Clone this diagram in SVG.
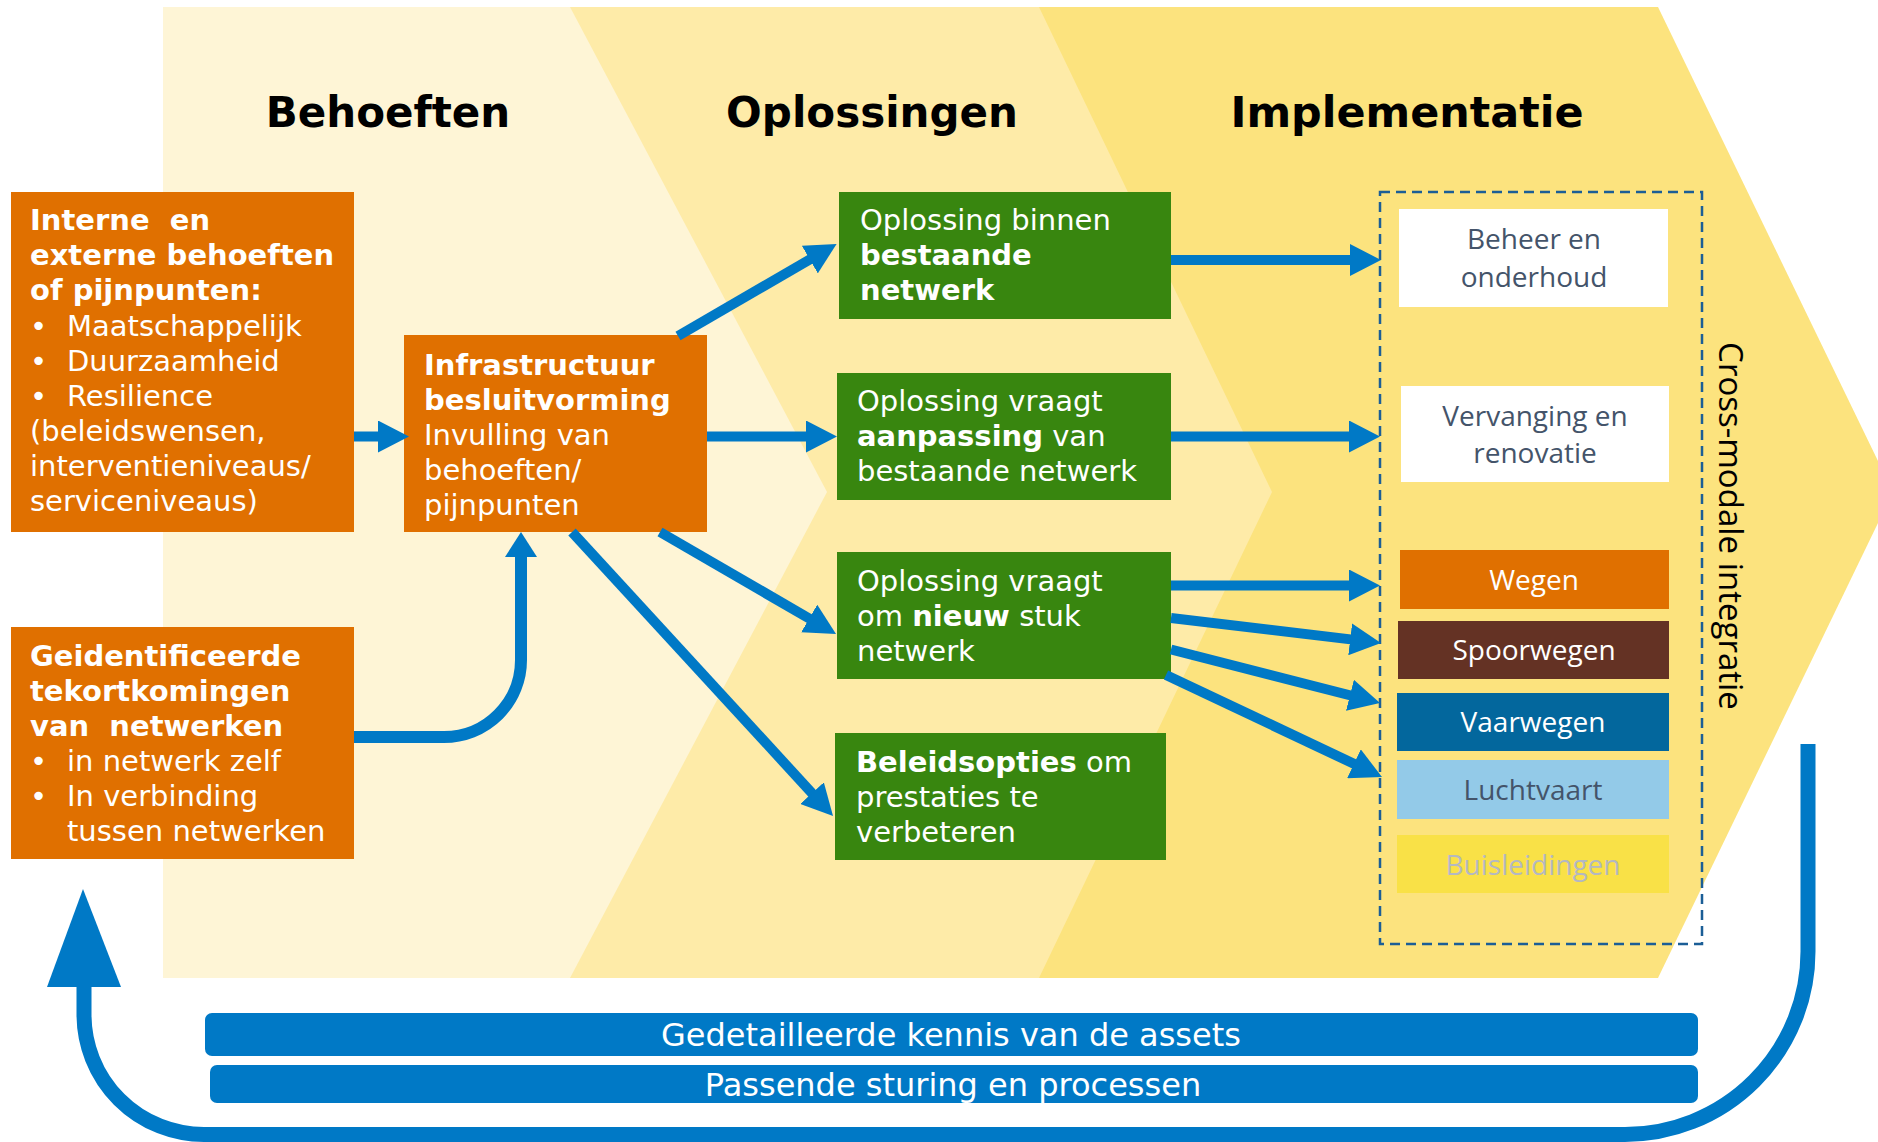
<svg xmlns="http://www.w3.org/2000/svg" width="1878" height="1142" viewBox="0 0 1878 1142">
<style>
.t{font-family:"DejaVu Sans","Verdana",sans-serif;font-size:29px;fill:#fff}
.b{font-weight:bold}
.title{font-family:"DejaVu Sans","Verdana",sans-serif;font-size:42px;font-weight:bold;fill:#000;text-anchor:middle}
.c{font-family:"Open Sans","Noto Sans",sans-serif;font-size:28px;text-anchor:middle}
.bar{font-family:"DejaVu Sans","Verdana",sans-serif;font-size:32px;fill:#fff;text-anchor:middle}
.or{fill:#E07000}
.gr{fill:#38860F}
.sh{stroke:#0079C6;stroke-width:10;fill:none}
.hd{fill:#0079C6}
</style>
<defs>
<marker id="ah" markerUnits="userSpaceOnUse" markerWidth="31" markerHeight="32" refX="11" refY="16" orient="auto" viewBox="0 0 31 32">
<path d="M0,0 L31,16 L0,32 z" fill="#0079C6"/>
</marker>
</defs>
<rect width="1878" height="1142" fill="#fff"/>
<g id="bands">
<polygon points="1000,7 1658,7 1893,492 1658,978 1000,978" fill="#FCE37E"/>
<polygon points="560,7 1039,7 1272,492 1039,978 560,978" fill="#FEEBA8"/>
<polygon points="163,7 570,7 827,492 570,978 163,978" fill="#FEF5D6"/>
</g>
<g id="titles">
<text class="title" x="388" y="127">Behoeften</text>
<text class="title" x="872" y="127">Oplossingen</text>
<text class="title" x="1407" y="127" textLength="353" lengthAdjust="spacingAndGlyphs">Implementatie</text>
</g>
<g id="node-interne">
<rect class="or" x="11" y="192" width="343" height="340"/>
<text class="t b" x="30" y="230" xml:space="preserve">Interne  en</text>
<text class="t b" x="30" y="265">externe behoeften</text>
<text class="t b" x="30" y="300">of pijnpunten:</text>
<text class="t" x="30" y="336">•</text><text class="t" x="67" y="336">Maatschappelijk</text>
<text class="t" x="30" y="371">•</text><text class="t" x="67" y="371">Duurzaamheid</text>
<text class="t" x="30" y="406">•</text><text class="t" x="67" y="406">Resilience</text>
<text class="t" x="30" y="441">(beleidswensen,</text>
<text class="t" x="30" y="476">interventieniveaus/</text>
<text class="t" x="30" y="511">serviceniveaus)</text>
</g>
<g id="node-infra">
<rect class="or" x="404" y="335" width="303" height="197"/>
<text class="t b" x="424" y="375">Infrastructuur</text>
<text class="t b" x="424" y="410">besluitvorming</text>
<text class="t" x="424" y="445">Invulling van</text>
<text class="t" x="424" y="480">behoeften/</text>
<text class="t" x="424" y="515">pijnpunten</text>
</g>
<g id="node-tekort">
<rect class="or" x="11" y="627" width="343" height="232"/>
<text class="t b" x="30" y="666">Geidentificeerde</text>
<text class="t b" x="30" y="701">tekortkomingen</text>
<text class="t b" x="30" y="736" xml:space="preserve">van  netwerken</text>
<text class="t" x="30" y="771">•</text><text class="t" x="67" y="771">in netwerk zelf</text>
<text class="t" x="30" y="806">•</text><text class="t" x="67" y="806">In verbinding</text>
<text class="t" x="67" y="841">tussen netwerken</text>
</g>
<g id="node-opl1">
<rect class="gr" x="839" y="192" width="332" height="127"/>
<text class="t" x="860" y="230">Oplossing binnen</text>
<text class="t b" x="860" y="265">bestaande</text>
<text class="t b" x="860" y="300">netwerk</text>
</g>
<g id="node-opl2">
<rect class="gr" x="837" y="373" width="334" height="127"/>
<text class="t" x="857" y="411">Oplossing vraagt</text>
<text class="t" x="857" y="446"><tspan class="b">aanpassing</tspan> van</text>
<text class="t" x="857" y="481">bestaande netwerk</text>
</g>
<g id="node-opl3">
<rect class="gr" x="837" y="552" width="334" height="127"/>
<text class="t" x="857" y="591">Oplossing vraagt</text>
<text class="t" x="857" y="626">om <tspan class="b">nieuw</tspan> stuk</text>
<text class="t" x="857" y="661">netwerk</text>
</g>
<g id="node-opl4">
<rect class="gr" x="835" y="733" width="331" height="127"/>
<text class="t" x="856" y="772"><tspan class="b">Beleidsopties</tspan> om</text>
<text class="t" x="856" y="807">prestaties te</text>
<text class="t" x="856" y="842">verbeteren</text>
</g>
<g id="node-crossmodaal">
<rect x="1380" y="192" width="322" height="752" fill="none" stroke="#1B5E96" stroke-width="2.5" stroke-dasharray="10 6"/>
<text transform="translate(1719,526) rotate(90)" style="font-family:'Open Sans','Noto Sans',sans-serif;font-size:33px;fill:#000;text-anchor:middle">Cross-modale integratie</text>
</g>
<g id="node-beheer">
<rect x="1399" y="209" width="269" height="98" fill="#fff"/>
<text class="c" x="1534" y="249" fill="#44546A">Beheer en</text>
<text class="c" x="1534" y="287" fill="#44546A">onderhoud</text>
</g>
<g id="node-vervanging">
<rect x="1401" y="386" width="268" height="96" fill="#fff"/>
<text class="c" x="1535" y="426" fill="#44546A">Vervanging en</text>
<text class="c" x="1535" y="463" fill="#44546A">renovatie</text>
</g>
<g id="node-wegen">
<rect x="1400" y="550" width="269" height="59" fill="#E07000"/>
<text class="c" x="1534" y="590" fill="#fff">Wegen</text>
</g>
<g id="node-spoorwegen">
<rect x="1398" y="621" width="271" height="58" fill="#643224"/>
<text class="c" x="1534" y="660" fill="#fff">Spoorwegen</text>
</g>
<g id="node-vaarwegen">
<rect x="1397" y="693" width="272" height="58" fill="#03679D"/>
<text class="c" x="1533" y="732" fill="#fff">Vaarwegen</text>
</g>
<g id="node-luchtvaart">
<rect x="1397" y="760" width="272" height="59" fill="#93CAE8"/>
<text class="c" x="1533" y="800" fill="#44546A">Luchtvaart</text>
</g>
<g id="node-buisleidingen">
<rect x="1397" y="835" width="272" height="58" fill="#F9E147"/>
<text class="c" x="1533" y="875" fill="#B4B8C2">Buisleidingen</text>
</g>
<g id="node-kennis">
<rect x="205" y="1013" width="1493" height="43" rx="7" fill="#0079C6"/>
<text class="bar" x="951" y="1046">Gedetailleerde kennis van de assets</text>
</g>
<g id="node-sturing">
<rect x="210" y="1065" width="1488" height="38" rx="7" fill="#0079C6"/>
<text class="bar" x="953" y="1096">Passende sturing en processen</text>
</g>
<g id="connectors">
<line class="sh" x1="354" y1="436.5" x2="389" y2="436.5" marker-end="url(#ah)"/>
<line class="sh" x1="707" y1="436.5" x2="817" y2="436.5" marker-end="url(#ah)"/>
<line class="sh" x1="678" y1="336" x2="819.3" y2="254" marker-end="url(#ah)"/>
<line class="sh" x1="660" y1="532" x2="818.7" y2="624" marker-end="url(#ah)"/>
<line class="sh" x1="572" y1="532" x2="819.5" y2="801.3" marker-end="url(#ah)"/>
<path d="M354,737 H444 A77,77 0 0 0 521,660 V555" stroke="#0079C6" stroke-width="12" fill="none"/>
<polygon class="hd" points="521,532 537,557 505,557"/>
<line class="sh" x1="1171" y1="260" x2="1361" y2="260" marker-end="url(#ah)"/>
<line class="sh" x1="1171" y1="436.5" x2="1360" y2="436.5" marker-end="url(#ah)"/>
<line class="sh" x1="1171" y1="585.5" x2="1360" y2="585.5" marker-end="url(#ah)"/>
<line class="sh" x1="1171" y1="618" x2="1361.1" y2="640.6" marker-end="url(#ah)"/>
<line class="sh" x1="1171" y1="649.5" x2="1360.6" y2="698" marker-end="url(#ah)"/>
<line class="sh" x1="1166" y1="675" x2="1363.9" y2="768.5" marker-end="url(#ah)"/>
<path d="M1808,744 V951.5 A183,183 0 0 1 1625,1134.5 H204 A120,120 0 0 1 84,1014.5 V980" stroke="#0079C6" stroke-width="15" fill="none"/>
<polygon class="hd" points="83,889 121,987 47,987"/>
</g>
</svg>
